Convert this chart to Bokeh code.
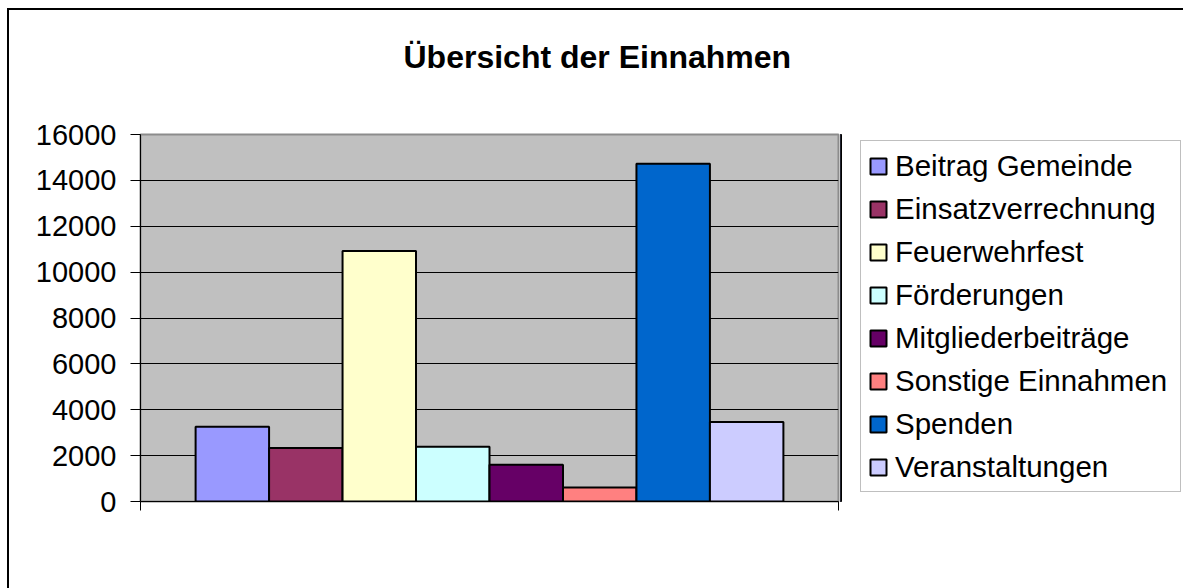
from bokeh.plotting import figure
from bokeh.layouts import row
from bokeh.models import Range1d, FixedTicker, Legend, LegendItem
from bokeh.embed import file_html
from bokeh.resources import INLINE

categories = ["Beitrag Gemeinde", "Einsatzverrechnung", "Feuerwehrfest", "Förderungen",
              "Mitgliederbeiträge", "Sonstige Einnahmen", "Spenden", "Veranstaltungen"]
values = [3260, 2330, 10920, 2390, 1600, 610, 14730, 3470]
colors = ["#9999FF", "#993366", "#FFFFCC", "#CCFFFF", "#660066", "#FF8080", "#0066CC", "#CCCCFF"]
y_ticks = [0, 2000, 4000, 6000, 8000, 10000, 12000, 14000, 16000]
title_text = "Übersicht der Einnahmen"

FONT = "Liberation Sans"
GAP = 0.75  # half of 150% gap width, in bar widths

p = figure(width=831, height=578, output_backend="svg", toolbar_location=None, tools="",
           x_range=Range1d(0, len(values) + 2 * GAP), y_range=Range1d(0, 16000),
           min_border_left=131, min_border_right=2, min_border_top=124, min_border_bottom=87,
           background_fill_color="#C0C0C0", border_fill_color="white",
           outline_line_color="#8C8C8C", outline_line_width=2)

p.title.text = title_text + "\n"
p.title.align = "left"
p.title.offset = 263
p.title.standoff = 47
p.title.text_font = FONT
p.title.text_font_size = "32px"
p.title.text_font_style = "bold"
p.title.text_color = "black"

p.xgrid.visible = False
p.ygrid.grid_line_color = "black"
p.ygrid.grid_line_width = 1
p.ygrid.ticker = FixedTicker(ticks=y_ticks)

p.yaxis.ticker = FixedTicker(ticks=y_ticks)
p.yaxis.major_tick_out = 10
p.yaxis.major_tick_in = 0
p.yaxis.minor_tick_line_color = None
p.yaxis.axis_line_color = "black"
p.yaxis.major_tick_line_color = "black"
p.yaxis.major_label_text_font = FONT
p.yaxis.major_label_text_font_size = "29px"
p.yaxis.major_label_text_color = "black"
p.yaxis.major_label_standoff = 14

p.xaxis.ticker = FixedTicker(ticks=[0, len(values) + 2 * GAP])
p.xaxis.major_tick_out = 9
p.xaxis.major_tick_in = 0
p.xaxis.minor_tick_line_color = None
p.xaxis.axis_line_color = "black"
p.xaxis.major_tick_line_color = "black"
p.xaxis.major_label_text_color = None
p.xaxis.major_label_text_font_size = "1px"

for i, (val, col) in enumerate(zip(values, colors)):
    p.vbar(x=[GAP + 0.5 + i], top=[val], width=1, bottom=0,
           fill_color=col, line_color="black", line_width=2)

# legend panel (separate canvas to the right of the plot area)
q = figure(width=343, height=578, output_backend="svg", toolbar_location=None, tools="",
           x_range=Range1d(0, 1), y_range=Range1d(0, 1),
           x_axis_type=None, y_axis_type=None,
           min_border_left=0, min_border_right=0, min_border_top=0, min_border_bottom=0,
           background_fill_color="white", border_fill_color="white", outline_line_color=None)
q.grid.visible = False

items = []
for i, (cat, val, col) in enumerate(zip(categories, values, colors)):
    r = q.vbar(x=[-5], top=[val], width=1, bottom=0,
               fill_color=col, line_color="black", line_width=2)
    items.append(LegendItem(label=cat, renderers=[r]))

legend = Legend(items=items, location=(20, 9),
                label_text_font=FONT, label_text_font_size="29.5px", label_text_color="black",
                glyph_width=20, glyph_height=20, label_height=35, label_width=278,
                spacing=8, padding=7, margin=0, label_standoff=7,
                border_line_color="#808080", border_line_width=1.5,
                background_fill_color="white", background_fill_alpha=1)
q.add_layout(legend)

layout = row(p, q, spacing=0)
layout.styles = {"margin-left": "7px", "margin-top": "8px",
                 "border-left": "2px solid black", "border-top": "2px solid black",
                 "border-right": "none", "border-bottom": "none"}

open("out.html", "w").write(file_html(layout, INLINE))
